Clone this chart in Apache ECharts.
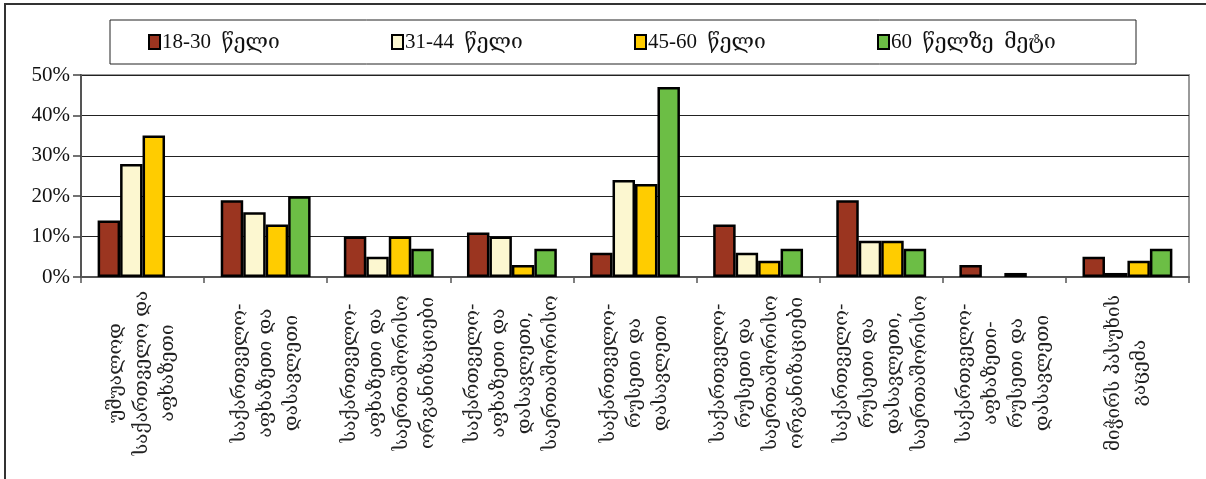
<!DOCTYPE html>
<html>
<head>
<meta charset="utf-8">
<script src="https://cdn.jsdelivr.net/npm/echarts@6/dist/echarts.min.js"></script>
<style>
  html, body { margin: 0; padding: 0; background: #fff; }
  #chart { width: 1206px; height: 479px; }
</style>
</head>
<body>
<div id="chart"></div>
<script>
// Category labels (multi-line, drawn rotated under each group)
const categories = [
  'უშუალოდ\nსაქართველო და\nაფხაზეთი',
  'საქართველო-\nაფხაზეთი და\nდასავლეთი',
  'საქართველო-\nაფხაზეთი და\nსაერთაშორისო\nორგანიზაციები',
  'საქართველო-\nაფხაზეთი და\nდასავლეთი,\nსაერთაშორისო',
  'საქართველო-\nრუსეთი და\nდასავლეთი',
  'საქართველო-\nრუსეთი და\nსაერთაშორისო\nორგანიზაციები',
  'საქართველო-\nრუსეთი და\nდასავლეთი,\nსაერთაშორისო',
  'საქართველო-\nაფხაზეთი-\nრუსეთი და\nდასავლეთი',
  'მიჭირს პასუხის\nგაცემა'
];

// Age groups
const seriesNames = ['18-30  წელი', '31-44  წელი', '45-60  წელი', '60  წელზე  მეტი'];

// Shares (%) per age group
const age18to30 = [14, 19, 10, 11, 6, 13, 19, 3, 5];
const age31to44 = [28, 16, 5, 10, 24, 6, 9, null, 1];
const age45to60 = [35, 13, 10, 3, 23, 4, 9, 1, 4];
const age60plus = [null, 20, 7, 7, 47, 7, 7, null, 7];

const yTicks = [0, 10, 20, 30, 40, 50];

const colors = ['#9B3520', '#FCF7D0', '#FFCC00', '#6CBE45'];
const seriesData = [age18to30, age31to44, age45to60, age60plus];

const serifFont = "'Liberation Serif', 'DejaVu Serif', serif";

const chart = echarts.init(document.getElementById('chart'), null, { renderer: 'canvas' });

chart.setOption({
  animation: false,
  backgroundColor: '#ffffff',
  graphic: [{
    type: 'rect',
    shape: { x: 5, y: 4, width: 1400, height: 700 },
    style: { fill: 'none', stroke: '#333', lineWidth: 2 },
    silent: true,
    z: 100
  }],
  legend: {
    data: seriesNames,
    left: 110,
    top: 20,
    orient: 'horizontal',
    icon: 'rect',
    itemWidth: 11,
    itemHeight: 14,
    itemGap: 5,
    padding: [11, 21, 11, 38],
    borderColor: '#222',
    borderWidth: 1,
    selectedMode: false,
    itemStyle: { borderColor: '#000', borderWidth: 2 },
    textStyle: {
      fontFamily: serifFont,
      fontSize: 21,
      color: '#111',
      width: 224,
      lineHeight: 22,
      padding: [0, 0, 0, -3]
    }
  },
  grid: {
    left: 81,
    right: 17,
    top: 75,
    bottom: 202,
    show: true,
    borderColor: '#9a9a9a',
    borderWidth: 2,
    containLabel: false
  },
  xAxis: {
    type: 'category',
    data: categories,
    axisLine: { show: true, lineStyle: { color: '#555', width: 2 } },
    axisTick: { show: true, alignWithLabel: false, length: 6, lineStyle: { color: '#555', width: 1.5 } },
    axisLabel: {
      interval: 0,
      rotate: 90,
      align: 'center',
      verticalAlign: 'middle',
      margin: 96,
      fontFamily: "'DejaVu Serif', serif",
      fontSize: 19,
      lineHeight: 26,
      color: '#222'
    }
  },
  yAxis: {
    type: 'value',
    min: yTicks[0],
    max: yTicks[yTicks.length - 1],
    interval: 10,
    axisLine: { show: true, lineStyle: { color: '#555', width: 2 } },
    axisTick: { show: true, length: 8, lineStyle: { color: '#444', width: 1.5 } },
    axisLabel: {
      formatter: '{value}%',
      fontFamily: serifFont,
      fontSize: 21,
      color: '#111',
      margin: 11
    },
    splitLine: { show: true, lineStyle: { color: '#222', width: 1 } }
  },
  series: seriesNames.map((name, i) => ({
    name: name,
    type: 'bar',
    data: seriesData[i],
    barGap: '0%',
    barCategoryGap: '27%',
    itemStyle: {
      color: colors[i],
      borderColor: '#000',
      borderWidth: 2.5
    }
  }))
});
</script>
</body>
</html>
